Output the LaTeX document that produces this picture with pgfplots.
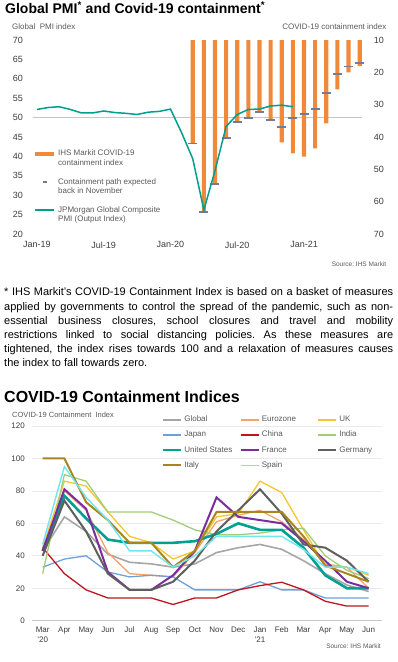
\documentclass[border=0pt]{standalone}
\usepackage{pgfplots}
\pgfplotsset{compat=1.18}
\usepackage{fontspec}
\setmainfont{Liberation Sans}
\definecolor{cOr}{RGB}{240,138,58}
\definecolor{cDash}{RGB}{118,122,150}
\definecolor{cTeal}{RGB}{0,158,140}
\definecolor{tickc}{RGB}{60,60,60}
\definecolor{labc}{RGB}{89,89,89}
\definecolor{gridc}{RGB}{235,235,235}
\definecolor{cGlobal}{RGB}{166,166,166}
\definecolor{cEuro}{RGB}{244,163,107}
\definecolor{cUK}{RGB}{247,197,49}
\definecolor{cJapan}{RGB}{111,160,216}
\definecolor{cChina}{RGB}{192,20,30}
\definecolor{cIndia}{RGB}{160,206,120}
\definecolor{cUS}{RGB}{0,160,146}
\definecolor{cFrance}{RGB}{123,44,158}
\definecolor{cGermany}{RGB}{95,95,95}
\definecolor{cItaly}{RGB}{169,133,32}
\definecolor{cSpain}{RGB}{111,230,240}
\pgfplotsset{
  mybase/.style={scale only axis, axis line style={draw=none}, major tick length=0pt,
    tick style={draw=none}, /pgf/number format/assume math mode=true,
    ticklabel style={font=\fontsize{9}{10}\selectfont, text=tickc}},
  toppos/.style={at={(32.5pt,428pt)}, anchor=south west, width=331.6pt, height=194pt,
    xmin=-0.4, xmax=29.4},
  lineleg/.style={legend image code/.code={\path[draw=none,fill=none] (0pt,-4.6pt) rectangle (19pt,4.6pt); \draw[##1] (0pt,4.6pt) -- (19pt,4.6pt);}},
  dashleg/.style={legend image code/.code={\path[draw=none,fill=none] (0pt,-4.6pt) rectangle (19pt,4.6pt); \draw[##1] (8pt,4.6pt) -- (12pt,4.6pt);}},
}
\begin{document}
\frenchspacing
\begin{tikzpicture}[x=1pt,y=1pt]
\useasboundingbox (0,0) rectangle (398,662);
% titles and texts
\node[anchor=base west, inner sep=0pt, font=\fontsize{14}{16}\selectfont\bfseries] at (5,648.5) {Global PMI\textsuperscript{*} and Covid-19 containment\textsuperscript{*}};
\node[anchor=base west, inner sep=0pt, font=\fontsize{8}{9}\selectfont, text=labc] at (12,632) {Global\ \ PMI index};
\node[anchor=base east, inner sep=0pt, font=\fontsize{8}{9}\selectfont, text=labc] at (386.5,632) {COVID-19 containment index};
\node[anchor=base east, inner sep=0pt, font=\fontsize{6.5}{8}\selectfont, text=labc] at (386.5,395.3) {Source: IHS Markit};
\node[anchor=base west, inner sep=0pt, font=\fontsize{11}{14.2}\selectfont] at (4,366) {\parbox[t]{389pt}{\fontsize{11}{14.2}\selectfont\frenchspacing
* IHS Markit's COVID-19 Containment Index is based on a basket of measures\linebreak
applied by governments to control the spread of the pandemic, such as non-\linebreak
essential business closures, school closures and travel and mobility\linebreak
restrictions linked to social distancing policies. As these measures are\linebreak
tightened, the index rises towards 100 and a relaxation of measures causes\linebreak
the index to fall towards zero.}};
\node[anchor=base west, inner sep=0pt, font=\fontsize{16}{18}\selectfont\bfseries] at (4,259.3) {COVID-19 Containment Indices};
\node[anchor=base west, inner sep=0pt, font=\fontsize{7.5}{9}\selectfont, text=labc] at (12,244) {COVID-19 Containment\ \ Index};
\node[anchor=base east, inner sep=0pt, font=\fontsize{6.5}{8}\selectfont, text=labc] at (381,13) {Source: IHS Markit};

% top chart: left scale, ticks
\begin{axis}[mybase, toppos, ymin=20, ymax=70, ytick={20,25,...,70},
  xtick={0,6,12,18,24}, xticklabels={Jan-19,Jul-19,Jan-20,Jul-20,Jan-21},
  yticklabel style={anchor=east, inner sep=0pt, xshift=-9.5pt},
  xticklabel style={anchor=north, inner sep=0pt, yshift=-7.5pt}]
\addplot[draw=gray!45, line width=0.6pt] coordinates {(-0.4,50) (29.2,50)};
\end{axis}
% top chart: right scale (reversed), bars and dashes
\begin{axis}[mybase, toppos, ymin=10, ymax=70, y dir=reverse, axis y line*=right,
  axis x line=none, ytick={10,20,...,70},
  yticklabel style={anchor=west, inner sep=0pt, xshift=9.5pt}]
\addplot[ybar, bar width=4.2pt, fill=cOr, draw=none] coordinates {
(14,42) (15,63.5) (16,54.3) (17,40.4) (18,35.4) (19,34) (20,32.2) (21,34.7)
(22,41.7) (23,45.1) (24,46.1) (25,43.5) (26,35.8) (27,25.3) (28,20) (29,18)};
\addplot[only marks, mark=-, mark size=4.5pt, mark options={line width=1.8pt, draw=cDash}] coordinates {
(14,42) (15,63.3) (16,54.5) (17,40.4) (18,35.3) (19,34) (20,32.2) (21,34.7)
(22,36.8) (23,34.2) (24,33) (25,31.4) (26,26.5) (27,20.6) (28,18.2) (29,17.2)};
\end{axis}
% top chart: PMI line and legend
\begin{axis}[mybase, toppos, ymin=20, ymax=70, hide axis,
  legend cell align=left,
  legend style={at={(0.0015,0.433)}, anchor=north west, draw=none, fill=none, inner sep=0pt,
    font=\fontsize{8}{9.3}\selectfont, text=labc, cells={align=left}, row sep=11.5pt,
    nodes={inner sep=0pt}, column sep=2pt}]
\addlegendimage{draw=cOr, line width=4pt, lineleg}
\addlegendentry{IHS Markit COVID-19\\containment index}
\addlegendimage{draw=cDash, line width=1.5pt, dashleg}
\addlegendentry{Containment path expected\\back in November}
\addlegendimage{draw=cTeal, line width=1.5pt, lineleg}
\addlegendentry{JPMorgan Global Composite\\PMI (Output Index)}
\addplot[cTeal, line width=1.5pt, forget plot] coordinates {
(0,52.1) (1,52.6) (2,52.8) (3,52.1) (4,51.2) (5,51.2) (6,51.7) (7,51.3) (8,51.1) (9,50.8)
(10,51.4) (11,51.6) (12,52.2) (13,46.1) (14,39.4) (15,26.2) (16,36.3) (17,47.7) (18,50.8)
(19,52.1) (20,52.2) (21,53.0) (22,53.2) (23,52.8)};
\end{axis}

% bottom chart
\begin{axis}[scale only axis, at={(31.8pt,41.3pt)}, anchor=south west, width=349.9pt, height=194.7pt,
  xmin=-0.5, xmax=15.6, ymin=0, ymax=120, ytick={0,20,...,120},
  ymajorgrids, grid style={draw=gridc, line width=0.6pt},
  axis x line*=bottom, axis y line*=left, x axis line style={draw=gray!45, line width=0.6pt},
  y axis line style={draw=none}, major tick length=0pt, tick style={draw=none},
  /pgf/number format/assume math mode=true,
  ticklabel style={font=\fontsize{8}{9.5}\selectfont, text=tickc},
  yticklabel style={anchor=east, inner sep=0pt, xshift=-6.8pt},
  xtick={0,...,15},
  xticklabels={{Mar\\'20},Apr,May,Jun,Jul,Aug,Sep,Oct,Nov,Dec,{Jan\\'21},Feb,Mar,Apr,May,Jun},
  xticklabel style={align=center, anchor=north, inner sep=0pt, yshift=-6.3pt},
  legend columns=3, legend cell align=left,
  legend image code/.code={\draw[#1] (0pt,0pt) -- (18pt,0pt); \draw[#1, line width=1.9pt] (0pt,0pt) -- (18pt,0pt);},
  legend style={at={(0.3707,1.0545)}, anchor=north west, draw=none, fill=none, inner sep=0pt,
    font=\fontsize{8}{9}\selectfont, text=labc, column sep=2pt, row sep=7.3pt,
    nodes={inner sep=0pt, text height=6pt, text depth=2pt}}]
\addplot[cGlobal, line width=1.6pt] coordinates {(0,43)(1,64)(2,55)(3,41)(4,36)(5,35)(6,33)(7,35)(8,42)(9,45)(10,47)(11,44)(12,37)(13,29)(14,22)(15,18)};
\addlegendentry{\makebox[53.5pt][l]{Global}}
\addplot[cEuro, line width=1.3pt] coordinates {(0,43)(1,80)(2,68)(3,42)(4,29)(5,28)(6,27)(7,42)(8,61)(9,65)(10,68)(11,61)(12,50)(13,35)(14,33)(15,20)};
\addlegendentry{\makebox[53.5pt][l]{Eurozone}}
\addplot[cUK, line width=1.3pt] coordinates {(0,45)(1,86)(2,83)(3,67)(4,52)(5,48)(6,38)(7,43)(8,64)(9,66)(10,86)(11,79)(12,56)(13,34)(14,33)(15,28)};
\addlegendentry{\makebox[53.5pt][l]{UK}}
\addplot[cJapan, line width=1.3pt] coordinates {(0,33)(1,38)(2,40)(3,30)(4,27)(5,28)(6,27)(7,19)(8,19)(9,19)(10,24)(11,19)(12,19)(13,14)(14,14)(15,14)};
\addlegendentry{\makebox[53.5pt][l]{Japan}}
\addplot[cChina, line width=1.3pt] coordinates {(0,45)(1,29)(2,19)(3,14)(4,14)(5,14)(6,10)(7,14)(8,14)(9,19)(10,21.6)(11,23.7)(12,19)(13,12)(14,9)(15,9)};
\addlegendentry{\makebox[53.5pt][l]{China}}
\addplot[cIndia, line width=1.3pt] coordinates {(0,29)(1,90)(2,86)(3,67)(4,67)(5,67)(6,62)(7,56)(8,53)(9,53)(10,54)(11,56)(12,57)(13,40)(14,31)(15,26)};
\addlegendentry{\makebox[53.5pt][l]{India}}
\addplot[cUS, line width=2.6pt] coordinates {(0,43)(1,77)(2,63)(3,50)(4,48)(5,48)(6,48)(7,49)(8,53.5)(9,60)(10,56)(11,56)(12,45)(13,28)(14,20)(15,20)};
\addlegendentry{\makebox[53.5pt][l]{United States}}
\addplot[cFrance, line width=2pt] coordinates {(0,43)(1,81)(2,69)(3,30)(4,19)(5,19)(6,28)(7,43)(8,76)(9,64)(10,62)(11,60)(12,49)(13,37)(14,24)(15,20)};
\addlegendentry{\makebox[53.5pt][l]{France}}
\addplot[cGermany, line width=2pt] coordinates {(0,40)(1,74)(2,55)(3,29)(4,19)(5,19)(6,24)(7,37)(8,55)(9,68)(10,81)(11,66)(12,47)(13,45)(14,37)(15,24)};
\addlegendentry{\makebox[53.5pt][l]{Germany}}
\addplot[cItaly, line width=2pt] coordinates {(0,100)(1,100)(2,73)(3,62)(4,48)(5,48)(6,33)(7,43)(8,67)(9,67)(10,67)(11,67)(12,52)(13,34)(14,29)(15,24)};
\addlegendentry{\makebox[53.5pt][l]{Italy}}
\addplot[cSpain, line width=1.4pt] coordinates {(0,47)(1,95)(2,76)(3,62)(4,43)(5,43)(6,33)(7,40)(8,52)(9,52)(10,52)(11,52)(12,44)(13,33)(14,33)(15,29)};
\addlegendentry{\makebox[53.5pt][l]{Spain}}
\end{axis}
\end{tikzpicture}
\end{document}
